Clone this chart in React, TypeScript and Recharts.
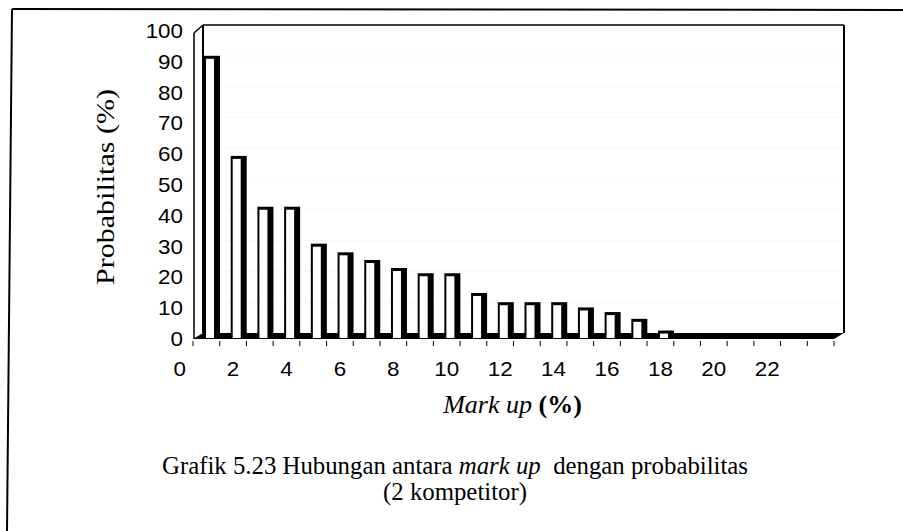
import React from 'react';
import { BarChart, Bar, XAxis, YAxis, CartesianGrid, ReferenceArea } from 'recharts';

const markUp = [0, 1, 2, 3, 4, 5, 6, 7, 8, 9, 10, 11, 12, 13, 14, 15, 16, 17, 18, 19, 20, 21, 22, 23];
const probabilitas = [90, 57.5, 41, 41, 29, 26.2, 23.7, 21.1, 19.4, 19.4, 13, 10, 10, 10, 8.3, 6.8, 4.6, 0.8, 0, 0, 0, 0, 0, 0];
const yTicks = [0, 10, 20, 30, 40, 50, 60, 70, 80, 90, 100];
const yTitle = 'Probabilitas (%)';
const xTitleItalic = 'Mark up';
const xTitleRest = ' (%)';
const captionA = 'Grafik 5.23 Hubungan antara ';
const captionItalic = 'mark up';
const captionB = '  dengan probabilitas';
const captionLine2 = '(2 kompetitor)';

const data = markUp.map((m, i) => ({ markUp: m, probabilitas: probabilitas[i] }));

const DX = 10;
const DY = 6;
const SANS = '"Liberation Sans", Arial, Helvetica, sans-serif';
const SERIF = '"Liberation Serif", "Times New Roman", Times, serif';
const STRETCH = 1.12;

function XTick(props: any) {
  const { x, y, payload, index } = props;
  const half = payload && payload.offset ? payload.offset : 13.35;
  const v = Number(payload.value);
  const count = props.visibleTicksCount || markUp.length;
  return (
    <g>
      <line x1={x - half} x2={x - half} y1={y - 6} y2={y - 1} stroke="#000" strokeWidth={1} />
      {index === count - 1 && (
        <line x1={x + half} x2={x + half} y1={y - 6} y2={y - 1} stroke="#000" strokeWidth={1} />
      )}
      {v % 2 === 0 && (
        <text
          transform={`translate(${x - 2 * half},${y + 29}) scale(${STRETCH},1)`}
          textAnchor="middle"
          fontFamily={SANS}
          fontSize={20}
          fill="#000"
        >
          {v}
        </text>
      )}
    </g>
  );
}

function YTick(props: any) {
  const { x, y, payload } = props;
  return (
    <text
      transform={`translate(${x},${y + 7}) scale(${STRETCH},1)`}
      textAnchor="end"
      fontFamily={SANS}
      fontSize={20}
      fill="#000"
    >
      {payload.value}
    </text>
  );
}

function BarShape(props: any) {
  const { x, y, height } = props;
  if (!(height > 0.3)) return <g />;
  const left = x + 3;
  const top = y - 6;
  const bottom = y + height;
  return (
    <g>
      <rect x={left} y={top} width={16} height={bottom - top} fill="#000" />
      <rect x={left + 2} y={top + 3} width={8} height={Math.max(0, bottom - top - 4)} fill="#fff" />
    </g>
  );
}

function GridLine(props: any) {
  const { x1, x2, y1, index } = props;
  if (index === 0 || index === yTicks.length - 1) return <g key={`g-${index}`} />;
  return (
    <line
      key={`g-${index}`}
      x1={x1 + DX + 2}
      x2={x2 + DX - 2}
      y1={y1 - DY}
      y2={y1 - DY}
      stroke="#e4e4e4"
      strokeWidth={1}
      strokeDasharray="1 3"
    />
  );
}

function Frame(props: any) {
  const { x, y, width, height } = props;
  const left = x;
  const right = x + width;
  const top = y;
  const bottom = y + height;
  return (
    <g>
      <line x1={12} y1={9} x2={7} y2={531} stroke="#000" strokeWidth={2} />
      <line x1={12} y1={9} x2={903} y2={10} stroke="#000" strokeWidth={2} />
      <polygon
        points={`${left},${bottom} ${right},${bottom} ${right + DX},${bottom - DY} ${left + DX},${bottom - DY}`}
        fill="#000"
      />
      <line x1={left + 1} y1={top + 2} x2={left + 1} y2={bottom} stroke="#000" strokeWidth={1.5} />
      <line x1={left + DX} y1={top - DY} x2={left + DX} y2={bottom - DY} stroke="#000" strokeWidth={2} />
      <line x1={left + 1} y1={top + 2} x2={left + DX} y2={top - DY} stroke="#000" strokeWidth={1.5} />
      <line x1={left + DX} y1={top - DY} x2={right + DX} y2={top - DY} stroke="#000" strokeWidth={1.5} />
      <line x1={right + DX} y1={top - DY} x2={right + DX} y2={bottom - DY} stroke="#000" strokeWidth={2} />
      <text
        transform={`translate(${left - 79},${(top + bottom) / 2 + 2}) rotate(-90) scale(1.2,1)`}
        textAnchor="middle"
        fontFamily={SERIF}
        fontSize={25}
        fill="#000"
      >
        {yTitle}
      </text>
      <text x={left + width / 2 - 1} y={bottom + 74} textAnchor="middle" fontFamily={SERIF} fontSize={26} fill="#000">
        <tspan fontStyle="italic">{xTitleItalic}</tspan>
        <tspan fontWeight="bold">{xTitleRest}</tspan>
      </text>
      <text x={455} y={474} textAnchor="middle" fontFamily={SERIF} fontSize={24.8} fill="#000" style={{ whiteSpace: 'pre' }}>
        <tspan>{captionA}</tspan>
        <tspan fontStyle="italic">{captionItalic}</tspan>
        <tspan>{captionB}</tspan>
      </text>
      <text x={455} y={500} textAnchor="middle" fontFamily={SERIF} fontSize={24.8} fill="#000">
        {captionLine2}
      </text>
    </g>
  );
}

export default function App() {
  return (
    <div style={{ position: 'absolute', left: 0, top: 0, width: 903, height: 531, background: '#fff' }}>
      <BarChart
        width={903}
        height={531}
        data={data}
        margin={{ top: 31, right: 69, bottom: 162, left: 133 }}
      >
        <CartesianGrid vertical={false} horizontal={GridLine as any} />
        <ReferenceArea shape={Frame as any} zIndex={-50} ifOverflow="visible" />
        <XAxis
          dataKey="markUp"
          type="category"
          interval={0}
          height={30}
          axisLine={false}
          tickLine={false}
          tickSize={6}
          tickMargin={2}
          tick={XTick as any}
        />
        <YAxis
          type="number"
          domain={[0, 100]}
          ticks={yTicks}
          interval={0}
          width={60}
          axisLine={false}
          tickLine={false}
          tickSize={6}
          tickMargin={4}
          tick={YTick as any}
        />
        <Bar dataKey="probabilitas" barSize={10} shape={BarShape as any} isAnimationActive={false} />
      </BarChart>
    </div>
  );
}
